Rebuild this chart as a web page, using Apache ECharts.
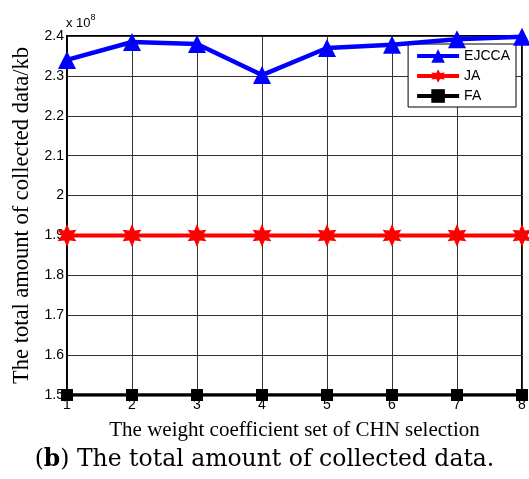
<!DOCTYPE html>
<html><head><meta charset="utf-8">
<script src="https://cdn.jsdelivr.net/npm/echarts@6/dist/echarts.min.js"></script>
<style>html,body{margin:0;padding:0;background:#fff}#c{width:529px;height:479px}</style>
</head><body><div id="c"></div>
<script>
const xValues = [1, 2, 3, 4, 5, 6, 7, 8];
const ejcca = [2.34, 2.385, 2.38, 2.302, 2.37, 2.378, 2.392, 2.398];
const ja = [1.9, 1.9, 1.9, 1.9, 1.9, 1.9, 1.9, 1.9];
const fa = [1.5, 1.5, 1.5, 1.5, 1.5, 1.5, 1.5, 1.5];
const yTicks = [1.5, 1.6, 1.7, 1.8, 1.9, 2.0, 2.1, 2.2, 2.3, 2.4];

const pair = a => xValues.map((x, i) => [x, a[i]]);
// hexagram-like star path
const hexStar = (() => {
  const pts = [];
  for (let i = 0; i < 12; i++) {
    const ang = -Math.PI / 2 + i * Math.PI / 6;
    const r = i % 2 === 0 ? 11 : 5.5;
    pts.push((r * Math.cos(ang)).toFixed(2) + ',' + (r * Math.sin(ang)).toFixed(2));
  }
  return 'path://M' + pts.join(' L') + ' Z';
})();

const chart = echarts.init(document.getElementById('c'));
chart.setOption({
  animation: false,
  grid: {left: 67, right: 7, top: 36, bottom: 84, show: true, borderColor: '#000', borderWidth: 2, containLabel: false},
  xAxis: {
    type: 'value', min: 1, max: 8, interval: 1,
    name: 'The weight coefficient set of CHN selection', nameLocation: 'middle', nameGap: 25,
    nameTextStyle: {fontFamily: 'Liberation Serif', fontSize: 21, color: '#000'},
    axisLine: {show: true, lineStyle: {color: '#000', width: 1.5}},
    axisTick: {show: false},
    axisLabel: {color: '#000', fontFamily: 'Liberation Sans', fontSize: 14, margin: 3},
    splitLine: {show: true, lineStyle: {color: '#333', width: 1}}
  },
  yAxis: {
    type: 'value', min: 1.5, max: 2.4, interval: 0.1,
    name: 'The total amount of collected data/kb', nameLocation: 'middle', nameGap: 30,
    nameTextStyle: {fontFamily: 'Liberation Serif', fontSize: 22.5, color: '#000'},
    axisLine: {show: true, lineStyle: {color: '#000', width: 1.5}},
    axisTick: {show: false},
    axisLabel: {color: '#000', fontFamily: 'Liberation Sans', fontSize: 14, margin: 3,
      formatter: v => { const r = Math.round(v * 10) / 10; return r === 2 ? '2' : r.toFixed(1); }},
    splitLine: {show: true, lineStyle: {color: '#333', width: 1}}
  },
  legend: {
    right: 13, top: 44, orient: 'vertical', itemWidth: 42, itemHeight: 17, itemGap: 6,
    backgroundColor: '#fff', borderColor: '#000', borderWidth: 1, borderRadius: 0,
    padding: [5, 6, 4, 7],
    lineStyle: {width: 4},
    textStyle: {fontFamily: 'Liberation Sans', fontSize: 14, color: '#000'},
    data: ['EJCCA', 'JA', 'FA']
  },
  series: [
    {name: 'EJCCA', type: 'line', data: pair(ejcca), symbol: 'triangle', symbolSize: 18,
      lineStyle: {color: '#0000ff', width: 4.5}, itemStyle: {color: '#0000ff'}, z: 5},
    {name: 'JA', type: 'line', data: pair(ja), symbol: hexStar, symbolSize: [19, 23],
      lineStyle: {color: '#ff0000', width: 4}, itemStyle: {color: '#ff0000'}, z: 4},
    {name: 'FA', type: 'line', data: pair(fa), symbol: 'rect', symbolSize: 12,
      lineStyle: {color: '#000', width: 3.5}, itemStyle: {color: '#000'}, z: 4}
  ],
  graphic: [
    {type: 'text', left: 66, top: 13, style: {
      text: '{a|x 10}{s|8}', rich: {
        a: {fontFamily: 'Liberation Sans', fontSize: 13, fill: '#000', verticalAlign: 'bottom'},
        s: {fontFamily: 'Liberation Sans', fontSize: 9, fill: '#000', verticalAlign: 'top', padding: [0, 0, 8, 0]}
      }}},
    {type: 'text', left: 'center', top: 448, style: {
      text: '({b|b}) The total amount of collected data.', fontFamily: 'DejaVu Serif', fontSize: 23.5, fill: '#000',
      rich: {b: {fontFamily: 'DejaVu Serif', fontSize: 23.5, fontWeight: 'bold', fill: '#000'}}
    }}
  ]
});
</script></body></html>
